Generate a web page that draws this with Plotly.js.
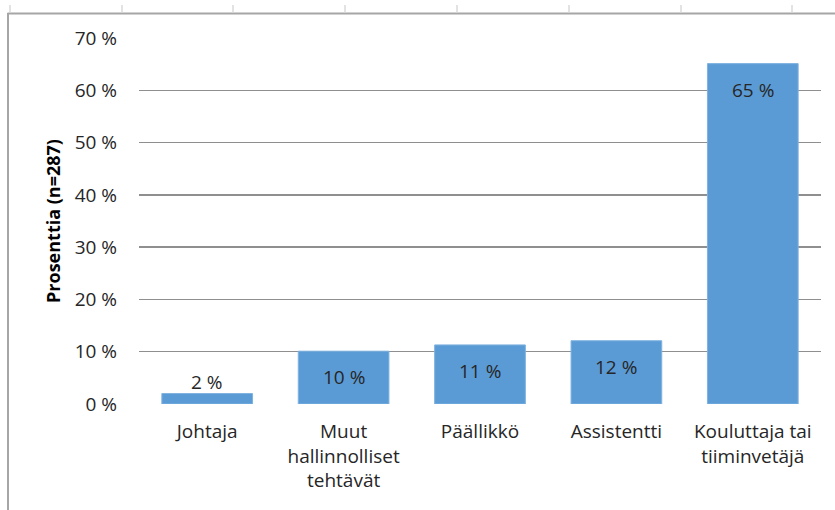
<!DOCTYPE html>
<html>
<head>
<meta charset="utf-8">
<script src="https://cdn.plot.ly/plotly-3.0.1.min.js"></script>
<style>html,body{margin:0;padding:0;background:#fff;}#chart{width:835px;height:510px;}</style>
</head>
<body>
<div id="chart"></div>
<script>
// Data
const categories = ['Johtaja', 'Muut<br>hallinnolliset<br>tehtävät', 'Päällikkö', 'Assistentti', 'Kouluttaja tai<br>tiiminvetäjä'];
const values = [2.0, 10.1, 11.3, 12.1, 65.1];
const valueLabels = ['2 %', '10 %', '11 %', '12 %', '65 %'];
const tickValues = [0, 10, 20, 30, 40, 50, 60, 70];
const tickLabels = ['0 %', '10 %', '20 %', '30 %', '40 %', '50 %', '60 %', '70 %'];
const yTitle = 'Prosenttia (n=287)';

const W = 835, H = 510;
const M = {l: 139, r: 14, t: 38, b: 106};
const PW = W - M.l - M.r, PH = H - M.t - M.b;
const px = x => (x - M.l) / PW;
const py = y => (H - M.b - y) / PH;

const FONT = '"Open Sans", "Noto Sans", sans-serif';
const TXT = '#262626';

const annotations = values.map((v, i) => ({
  x: categories[i], y: v, xref: 'x', yref: 'y',
  text: valueLabels[i], showarrow: false,
  yanchor: 'middle', yshift: v < 5 ? 12 : -26,
  font: {family: FONT, size: 19, color: TXT}
}));

const shapes = [];
// outer frame (top + left)
shapes.push({type: 'line', xref: 'paper', yref: 'paper', x0: px(7.5), x1: px(835), y0: py(13.5), y1: py(13.5), line: {color: '#a6a6a6', width: 2}});
shapes.push({type: 'line', xref: 'paper', yref: 'paper', x0: px(8), x1: px(8), y0: py(13), y1: py(510), line: {color: '#a6a6a6', width: 2}});
// faint sheet column marks above frame
[10, 122, 233, 345, 457, 569, 681, 792].forEach(x => {
  shapes.push({type: 'line', xref: 'paper', yref: 'paper', x0: px(x), x1: px(x), y0: py(5), y1: py(12.5), line: {color: '#dadada', width: 1.5}});
});

const trace = {
  type: 'bar', x: categories, y: values,
  marker: {color: '#5b9bd5', line: {color: '#7fb2e0', width: 1}},
  hoverinfo: 'none'
};

const layout = {
  width: W, height: H,
  margin: M,
  paper_bgcolor: '#fff', plot_bgcolor: '#fff',
  bargap: 0.335,
  showlegend: false,
  font: {family: FONT, size: 19, color: TXT},
  xaxis: {
    type: 'category', showgrid: false, showline: false, zeroline: false,
    ticks: '', ticklabelstandoff: 14,
    tickfont: {family: FONT, size: 19, color: TXT},
    automargin: false
  },
  yaxis: {
    range: [0, 70], tickvals: tickValues, ticktext: tickLabels,
    showgrid: true, gridcolor: '#8f8f8f', gridwidth: 1.4,
    zeroline: false, showline: false, ticks: '',
    ticklabelstandoff: 21,
    tickfont: {family: FONT, size: 19, color: TXT},
    title: {text: yTitle, standoff: 9, font: {family: FONT, size: 18, color: '#000', weight: 'bold'}},
    automargin: false, fixedrange: true
  },
  shapes: shapes,
  annotations: annotations
};

Plotly.newPlot('chart', [trace], layout, {displayModeBar: false, staticPlot: true});
</script>
</body>
</html>
